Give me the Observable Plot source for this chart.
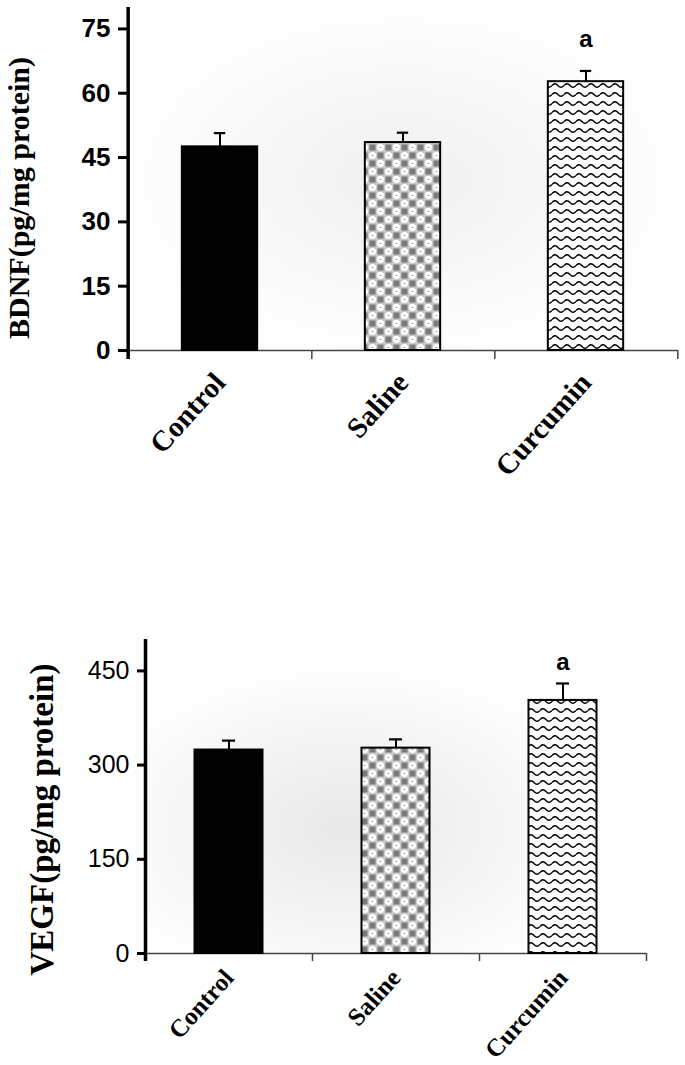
<!DOCTYPE html>
<html><head><meta charset="utf-8">
<script src="https://cdn.jsdelivr.net/npm/d3@7"></script>
<script src="https://cdn.jsdelivr.net/npm/@observablehq/plot@0.6"></script>
<style>
body{margin:0;background:#fff;width:685px;height:1065px;overflow:hidden}
#c svg{display:block;overflow:visible}
</style></head><body><div id="c"></div>
<script>
const groups = ["Control", "Saline", "Curcumin"];

const bdnfMean = [47.5, 48.5, 62.7];
const bdnfErr = [3.2, 2.3, 2.5];
const bdnfSig = ["", "", "a"];
const bdnfTicks = [0, 15, 30, 45, 60, 75];
const bdnfTitle = "BDNF(pg/mg protein)";

const vegfMean = [324, 327, 403];
const vegfErr = [15, 14, 27];
const vegfSig = ["", "", "a"];
const vegfTicks = [0, 150, 300, 450];
const vegfTitle = "VEGF(pg/mg protein)";

const serif = "'Liberation Serif', 'Times New Roman', serif";
const sans = "'Liberation Sans', Arial, sans-serif";

function addDefs(svg, id, bg) {
  const defs = d3.select(svg).insert("defs", ":first-child");
  const g = defs.append("radialGradient").attr("id", id + "-bg")
    .attr("cx", bg.cx).attr("cy", bg.cy).attr("r", bg.r);
  g.append("stop").attr("offset", "0%").attr("stop-color", bg.c0);
  g.append("stop").attr("offset", "100%").attr("stop-color", "#ffffff");
  const s = defs.append("pattern").attr("id", id + "-saline")
    .attr("patternUnits", "userSpaceOnUse").attr("width", 16).attr("height", 16);
  s.append("rect").attr("width", 16).attr("height", 16).attr("fill", "#c8c8c8");
  s.append("rect").attr("x", 1.5).attr("y", 0.5).attr("width", 6).attr("height", 6).attr("fill", "#7a7a7a");
  s.append("rect").attr("x", 9.5).attr("y", 8.5).attr("width", 6).attr("height", 6).attr("fill", "#7a7a7a");
  s.append("circle").attr("cx", 12.5).attr("cy", 3.5).attr("r", 3.6).attr("fill", "#fff");
  s.append("circle").attr("cx", 4.5).attr("cy", 11.5).attr("r", 3.6).attr("fill", "#fff");
  s.append("rect").attr("x", 11.5).attr("y", 3).attr("width", 2).attr("height", 1).attr("fill", "#999");
  s.append("rect").attr("x", 3.5).attr("y", 11).attr("width", 2).attr("height", 1).attr("fill", "#999");
  const w = defs.append("pattern").attr("id", id + "-wave")
    .attr("patternUnits", "userSpaceOnUse").attr("width", 12).attr("height", 9);
  w.append("rect").attr("width", 12).attr("height", 9).attr("fill", "#fff");
  w.append("path").attr("d", "M0,4.5 Q3,1 6,4.5 T12,4.5").attr("fill", "none")
    .attr("stroke", "#000").attr("stroke-width", 1.4);
}

function chart(o) {
  const fills = ["#000", `url(#${o.id}-saline)`, `url(#${o.id}-wave)`];
  const data = groups.map((g, i) => ({
    group: g, mean: o.mean[i], hi: o.mean[i] + o.err[i], sig: o.sig[i], fill: fills[i]
  }));
  const innerW = o.width - o.ml - o.mr;
  const innerH = o.height - o.mt - o.mb;
  const step = innerW / groups.length;
  const k = innerH / (o.domain[1] - o.domain[0]);
  const below = -o.tickLen / k;
  const barInset = (step - o.barW) / 2;
  const capInset = (step - o.capW) / 2;
  const svg = Plot.plot({
    width: o.width, height: o.height,
    marginLeft: o.ml, marginRight: o.mr, marginTop: o.mt, marginBottom: o.mb,
    style: {background: "transparent", overflow: "visible"},
    x: {domain: groups, padding: 0, axis: null},
    y: {domain: o.domain, axis: null},
    color: {type: "identity"},
    marks: [
      Plot.frame({fill: `url(#${o.id}-bg)`, stroke: "none"}),
      Plot.ruleY([0], {stroke: "#444", strokeWidth: 1.3}),
      Plot.ruleX(groups, {x: d => d, dx: step / 2, y1: 0, y2: below, stroke: "#444", strokeWidth: 1.5}),
      Plot.ruleX([groups[0]], {x: d => d, dx: -step / 2, y1: below, y2: o.domain[1], stroke: "#000", strokeWidth: 3.5}),
      Plot.axisY({ticks: o.ticks, tickSize: o.tickLen, strokeWidth: 3, tickPadding: o.tickPad,
        fontSize: o.tickFont, fontWeight: o.tickWeight, fontFamily: sans, fill: "#000",
        label: null, tickFormat: d => String(d)}),
      Plot.barY(data, {x: "group", y: "mean", fill: "fill", stroke: "#000", strokeWidth: 2,
        insetLeft: barInset, insetRight: barInset}),
      Plot.ruleX(data, {x: "group", y1: "mean", y2: "hi", stroke: "#000", strokeWidth: 2}),
      Plot.tickY(data, {x: "group", y: "hi", stroke: "#000", strokeWidth: 2.2,
        insetLeft: capInset, insetRight: capInset}),
      Plot.text(data, {x: "group", y: "hi", text: "sig", dy: o.sigDy, fontSize: 24,
        fontWeight: "bold", fontFamily: sans, fill: "#000"}),
      Plot.text(data, {x: "group", y: 0, text: "group", rotate: o.labRot, textAnchor: "end",
        dx: o.labDx, dy: o.labDy, fontSize: o.labFont, fontWeight: "bold", fontFamily: serif, fill: "#000"}),
      Plot.text([o.title], {frameAnchor: "left", textAnchor: "middle", text: d => d, rotate: -90,
        dx: o.titleDx, dy: o.titleDy,
        fontSize: o.titleFont, fontWeight: "bold", fontFamily: serif, fill: "#000"})
    ]
  });
  addDefs(svg, o.id, o.bg);
  return svg;
}

const c = document.getElementById("c");
c.appendChild(chart({
  id: "p1", width: 685, height: 490, ml: 127, mr: 7, mt: 7, mb: 140,
  domain: [0, 80], ticks: bdnfTicks, mean: bdnfMean, err: bdnfErr, sig: bdnfSig,
  title: bdnfTitle, tickLen: 9, tickPad: 8, tickFont: 26, tickWeight: "bold",
  barW: 76, capW: 12, sigDy: -32, labDx: 0, labDy: 27, labFont: 29, labRot: -48,
  titleDx: -108, titleDy: 19, titleFont: 30,
  bg: {cx: "50%", cy: "50%", r: "55%", c0: "#f0f0f0"}
}));
c.appendChild(chart({
  id: "p2", width: 685, height: 575, ml: 145, mr: 39, mt: 149, mb: 112,
  domain: [0, 500], ticks: vegfTicks, mean: vegfMean, err: vegfErr, sig: vegfSig,
  title: vegfTitle, tickLen: 8, tickPad: 8, tickFont: 25, tickWeight: "normal",
  barW: 68, capW: 13, sigDy: -21, labDx: 0, labDy: 20, labFont: 25, labRot: -48,
  titleDx: -103, titleDy: 23, titleFont: 33,
  bg: {cx: "40%", cy: "60%", r: "55%", c0: "#e8e8e8"}
}));
</script>
</body></html>
